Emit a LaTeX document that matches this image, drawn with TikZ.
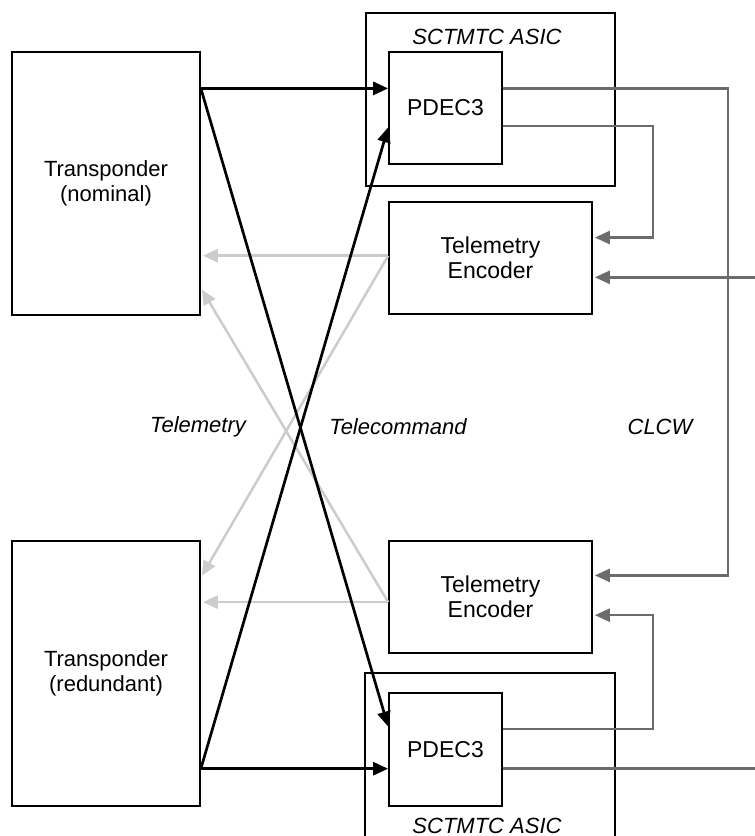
\documentclass[tikz,border=0pt]{standalone}
\usepackage{fontspec}
\setmainfont{Liberation Sans}
\usetikzlibrary{arrows.meta,calc}

\definecolor{clcwgray}{RGB}{108,108,108}
\definecolor{tmgray}{RGB}{204,204,204}

\tikzset{
  blk/.style={draw, line width=1.7pt, inner sep=0pt, align=center,
              font=\fontsize{22}{25}\selectfont},
  bigtext/.style={font=\fontsize{23}{25.5}\selectfont},
  tag/.style={inner sep=0pt, font=\fontsize{22}{25}\selectfont\itshape},
  tip/.style={-{Triangle[length=15pt,width=13pt]}},
  tcline/.style={tip, line width=2.7pt, black},
  clcwline/.style={tip, line width=2.5pt, clcwgray, shorten >=2pt},
  clcwplain/.style={line width=2.5pt, clcwgray},
  tmline/.style={tip, line width=2.5pt, tmgray, shorten >=2pt},
}

\begin{document}
\begin{tikzpicture}[x=1pt, y=-1pt]
  \useasboundingbox (0,0) rectangle (755,836);
  \fill[white] (0,0) rectangle (755,836);
  \clip (0,0) rectangle (755,836);

  % transponders
  \node[blk, minimum width=188pt, minimum height=263pt] (nom) at (106,183.5) {Transponder\\(nominal)};
  \node[blk, minimum width=188pt, minimum height=265pt] (red) at (106,673.5) {Transponder\\(redundant)};

  % upper ASIC with its decoder
  \node[blk, minimum width=249pt, minimum height=173pt] (asicA) at (490.5,99.5) {};
  \node[tag] (asicAlbl) at (487,37) {SCTMTC ASIC};
  \node[blk, bigtext, minimum width=113pt, minimum height=112pt] (pdecA) at (445.5,108) {PDEC3};

  % telemetry encoders
  \node[blk, bigtext, minimum width=203pt, minimum height=112pt] (encA) at (490.5,258) {Telemetry\\Encoder};
  \node[blk, bigtext, minimum width=203pt, minimum height=112pt] (encB) at (490.5,597) {Telemetry\\Encoder};

  % lower ASIC with its decoder
  \node[blk, minimum width=250pt, minimum height=172pt] (asicB) at (490,759) {};
  \node[tag] (asicBlbl) at (487,825.5) {SCTMTC ASIC};
  \node[blk, bigtext, minimum width=113pt, minimum height=113pt] (pdecB) at (445.5,749.5) {PDEC3};

  % signal labels
  \node[tag] (lblTm) at (198,427) {Telemetry};
  \node[tag] (lblTc) at (398,427) {Telecommand};
  \node[tag] (lblClcw) at (660,427) {CLCW};

  % ports
  \coordinate (nomTx) at ($(nom.north east)!0.1407!(nom.south east)$);
  \coordinate (redTx) at ($(red.north east)!0.857!(red.south east)$);
  \coordinate (nomTmB) at ($(nom.north east)!0.894!(nom.south east)$);
  \coordinate (redTmA) at ($(red.north east)!0.14!(red.south east)$);
  \coordinate (pdecAin2) at ($(pdecA.north west)!0.67!(pdecA.south west)$);
  \coordinate (pdecBin1) at ($(pdecB.north west)!0.30!(pdecB.south west)$);
  \coordinate (pdecAout2) at ($(pdecA.north east)!0.66!(pdecA.south east)$);
  \coordinate (pdecBout1) at ($(pdecB.north east)!0.32!(pdecB.south east)$);
  \coordinate (encAin1) at ($(encA.north east)!0.32!(encA.south east)$);
  \coordinate (encAin2) at ($(encA.north east)!0.67!(encA.south east)$);
  \coordinate (encBin1) at ($(encB.north east)!0.31!(encB.south east)$);
  \coordinate (encBin2) at ($(encB.north east)!0.66!(encB.south east)$);
  \coordinate (encAout) at ($(encA.north west)!0.48!(encA.south west)$);
  \coordinate (encBout) at ($(encB.north west)!0.545!(encB.south west)$);
  \coordinate (clcwX) at (728,0);
  \coordinate (loopX) at (653,0);
  \coordinate (edgeX) at (765,0);

  % telemetry links (light grey)
  \draw[tmline] (encAout) -- (nom.east |- encAout);
  \draw[tmline] (encAout) -- (redTmA);
  \draw[tmline] (encBout) -- (red.east |- encBout);
  \draw[tmline] (encBout) -- (nomTmB);

  % telecommand links (black)
  \draw[tcline] (nomTx) -- (pdecA.west |- nomTx);
  \draw[tcline] (nomTx) -- (pdecBin1);
  \draw[tcline] (redTx) -- (pdecB.west |- redTx);
  \draw[tcline] (redTx) -- (pdecAin2);

  % CLCW links (dark grey)
  \draw[clcwline] (pdecA.east |- nomTx) -- (clcwX |- nomTx) -- (clcwX |- encBin1) -- (encBin1);
  \draw[clcwline] (pdecAout2) -- (loopX |- pdecAout2) -- (loopX |- encAin1) -- (encAin1);
  \draw[clcwline] (edgeX |- encAin2) -- (encAin2);
  \draw[clcwline] (pdecBout1) -- (loopX |- pdecBout1) -- (loopX |- encBin2) -- (encBin2);
  \draw[clcwplain] (pdecB.east |- redTx) -- (edgeX |- redTx);
\end{tikzpicture}
\end{document}
